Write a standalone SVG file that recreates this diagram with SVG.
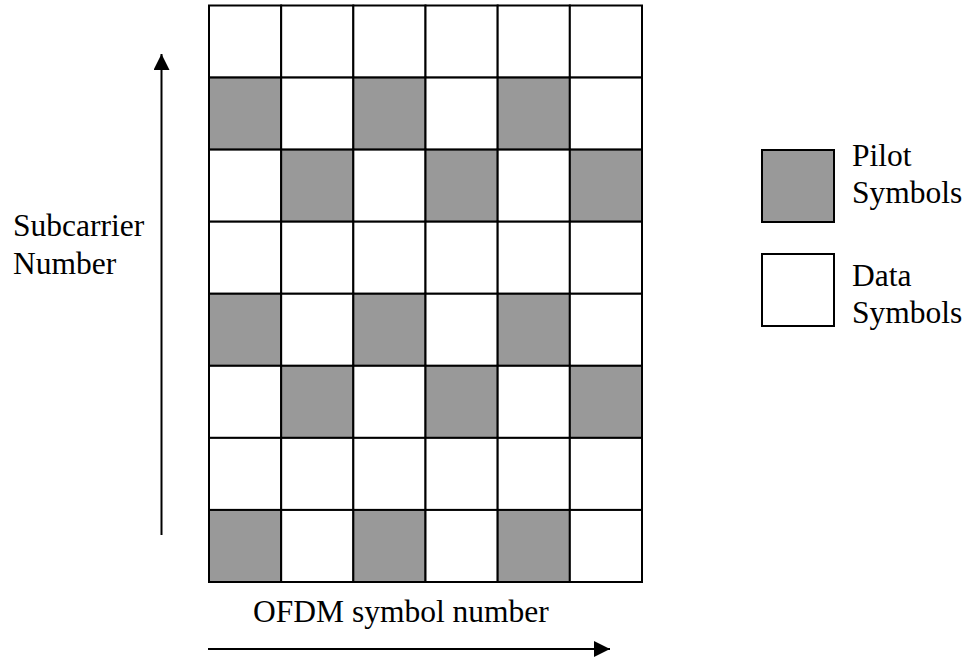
<svg xmlns="http://www.w3.org/2000/svg" width="971" height="659" viewBox="0 0 971 659">
  <style>
    .cell { fill: #ffffff; stroke: #000000; stroke-width: 2; }
    .pilot { fill: #999999; }
    .lbl { font-family: "Liberation Serif", "Times New Roman", serif; font-size: 31.5px; fill: #000000; }
    .axis { stroke: #000000; stroke-width: 2; fill: none; }
  </style>
  <defs>
    <marker id="arrowhead" markerUnits="userSpaceOnUse" markerWidth="18" markerHeight="16" refX="16" refY="8" orient="auto">
      <path d="M0,0 L16,8 L0,16 Z" fill="#000000"/>
    </marker>
  </defs>
  <rect width="971" height="659" fill="#ffffff"/>

  <!-- pilot grid: 6 OFDM symbols x 8 subcarriers -->
  <g id="grid">
    <g id="row0">
      <rect class="cell" x="209" y="5.5" width="72.17" height="72.06"/>
      <rect class="cell" x="281.17" y="5.5" width="72.17" height="72.06"/>
      <rect class="cell" x="353.33" y="5.5" width="72.17" height="72.06"/>
      <rect class="cell" x="425.5" y="5.5" width="72.17" height="72.06"/>
      <rect class="cell" x="497.67" y="5.5" width="72.17" height="72.06"/>
      <rect class="cell" x="569.83" y="5.5" width="72.17" height="72.06"/>
    </g>
    <g id="row1">
      <rect class="cell pilot" x="209" y="77.56" width="72.17" height="72.06"/>
      <rect class="cell" x="281.17" y="77.56" width="72.17" height="72.06"/>
      <rect class="cell pilot" x="353.33" y="77.56" width="72.17" height="72.06"/>
      <rect class="cell" x="425.5" y="77.56" width="72.17" height="72.06"/>
      <rect class="cell pilot" x="497.67" y="77.56" width="72.17" height="72.06"/>
      <rect class="cell" x="569.83" y="77.56" width="72.17" height="72.06"/>
    </g>
    <g id="row2">
      <rect class="cell" x="209" y="149.63" width="72.17" height="72.06"/>
      <rect class="cell pilot" x="281.17" y="149.63" width="72.17" height="72.06"/>
      <rect class="cell" x="353.33" y="149.63" width="72.17" height="72.06"/>
      <rect class="cell pilot" x="425.5" y="149.63" width="72.17" height="72.06"/>
      <rect class="cell" x="497.67" y="149.63" width="72.17" height="72.06"/>
      <rect class="cell pilot" x="569.83" y="149.63" width="72.17" height="72.06"/>
    </g>
    <g id="row3">
      <rect class="cell" x="209" y="221.69" width="72.17" height="72.06"/>
      <rect class="cell" x="281.17" y="221.69" width="72.17" height="72.06"/>
      <rect class="cell" x="353.33" y="221.69" width="72.17" height="72.06"/>
      <rect class="cell" x="425.5" y="221.69" width="72.17" height="72.06"/>
      <rect class="cell" x="497.67" y="221.69" width="72.17" height="72.06"/>
      <rect class="cell" x="569.83" y="221.69" width="72.17" height="72.06"/>
    </g>
    <g id="row4">
      <rect class="cell pilot" x="209" y="293.75" width="72.17" height="72.06"/>
      <rect class="cell" x="281.17" y="293.75" width="72.17" height="72.06"/>
      <rect class="cell pilot" x="353.33" y="293.75" width="72.17" height="72.06"/>
      <rect class="cell" x="425.5" y="293.75" width="72.17" height="72.06"/>
      <rect class="cell pilot" x="497.67" y="293.75" width="72.17" height="72.06"/>
      <rect class="cell" x="569.83" y="293.75" width="72.17" height="72.06"/>
    </g>
    <g id="row5">
      <rect class="cell" x="209" y="365.81" width="72.17" height="72.06"/>
      <rect class="cell pilot" x="281.17" y="365.81" width="72.17" height="72.06"/>
      <rect class="cell" x="353.33" y="365.81" width="72.17" height="72.06"/>
      <rect class="cell pilot" x="425.5" y="365.81" width="72.17" height="72.06"/>
      <rect class="cell" x="497.67" y="365.81" width="72.17" height="72.06"/>
      <rect class="cell pilot" x="569.83" y="365.81" width="72.17" height="72.06"/>
    </g>
    <g id="row6">
      <rect class="cell" x="209" y="437.88" width="72.17" height="72.06"/>
      <rect class="cell" x="281.17" y="437.88" width="72.17" height="72.06"/>
      <rect class="cell" x="353.33" y="437.88" width="72.17" height="72.06"/>
      <rect class="cell" x="425.5" y="437.88" width="72.17" height="72.06"/>
      <rect class="cell" x="497.67" y="437.88" width="72.17" height="72.06"/>
      <rect class="cell" x="569.83" y="437.88" width="72.17" height="72.06"/>
    </g>
    <g id="row7">
      <rect class="cell pilot" x="209" y="509.94" width="72.17" height="72.06"/>
      <rect class="cell" x="281.17" y="509.94" width="72.17" height="72.06"/>
      <rect class="cell pilot" x="353.33" y="509.94" width="72.17" height="72.06"/>
      <rect class="cell" x="425.5" y="509.94" width="72.17" height="72.06"/>
      <rect class="cell pilot" x="497.67" y="509.94" width="72.17" height="72.06"/>
      <rect class="cell" x="569.83" y="509.94" width="72.17" height="72.06"/>
    </g>
  </g>

  <!-- axes -->
  <g id="connectors">
    <line class="axis" x1="161.5" y1="535" x2="161.5" y2="54" marker-end="url(#arrowhead)"/>
    <line class="axis" x1="208" y1="649" x2="610" y2="649" marker-end="url(#arrowhead)"/>
  </g>

  <g id="y-label">
    <text class="lbl" x="13" y="236">Subcarrier</text>
    <text class="lbl" x="13" y="274">Number</text>
  </g>
  <g id="x-label">
    <text class="lbl" x="253" y="622">OFDM symbol number</text>
  </g>

  <!-- legend -->
  <g id="legend-pilot">
    <rect class="cell pilot" x="762" y="150" width="72" height="72"/>
    <text class="lbl" x="852" y="166">Pilot</text>
    <text class="lbl" x="852" y="203">Symbols</text>
  </g>
  <g id="legend-data">
    <rect class="cell" x="762" y="254" width="72" height="72"/>
    <text class="lbl" x="852" y="286">Data</text>
    <text class="lbl" x="852" y="323">Symbols</text>
  </g>
</svg>
